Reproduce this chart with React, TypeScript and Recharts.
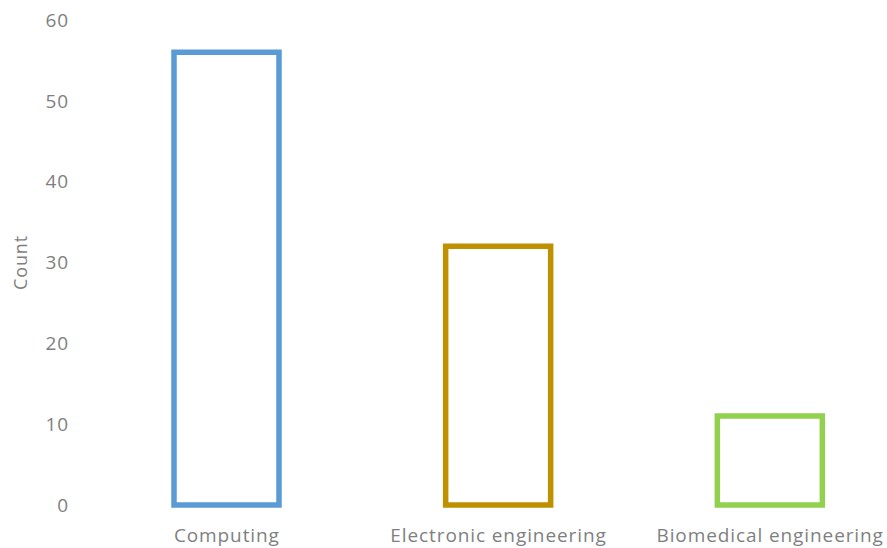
import React from "react";
import { BarChart, Bar, XAxis, YAxis, Cell } from "recharts";

const categories = ["Computing", "Electronic engineering", "Biomedical engineering"];
const counts = [56, 32, 11];
const yTicks = [0, 10, 20, 30, 40, 50, 60];
const barColors = ["#5B9BD5", "#BF9000", "#92D050"];

const data = categories.map((name, i) => ({ name, count: counts[i] }));

const font = "'Open Sans', sans-serif";
const gray = "#7f7f7f";
const textStyle = { fill: gray, fontSize: 19, fontFamily: font, letterSpacing: 0.9 };

export default function App() {
  return (
    <div
      style={{
        position: "fixed",
        left: 0,
        top: 0,
        width: 887,
        height: 548,
        overflow: "hidden",
        background: "#fff",
      }}
    >
      <BarChart
        width={920}
        height={548}
        data={data}
        margin={{ top: 20, right: 14, bottom: 0, left: 8 }}
      >
        <XAxis
          dataKey="name"
          axisLine={false}
          tickLine={false}
          tickSize={0}
          tickMargin={24}
          height={43}
          interval={0}
          tick={textStyle}
        />
        <YAxis
          domain={[0, 60]}
          ticks={yTicks}
          axisLine={false}
          tickLine={false}
          tickSize={0}
          tickMargin={22}
          width={83}
          tick={textStyle}
          label={{
            value: "Count",
            angle: -90,
            position: "insideLeft",
            offset: 13,
            style: { ...textStyle, fontSize: 18, textAnchor: "middle" },
          }}
        />
        <Bar dataKey="count" barSize={105} fill="#ffffff" strokeWidth={5.5} isAnimationActive={false}>
          {data.map((d, i) => (
            <Cell key={d.name} stroke={barColors[i]} />
          ))}
        </Bar>
      </BarChart>
    </div>
  );
}
